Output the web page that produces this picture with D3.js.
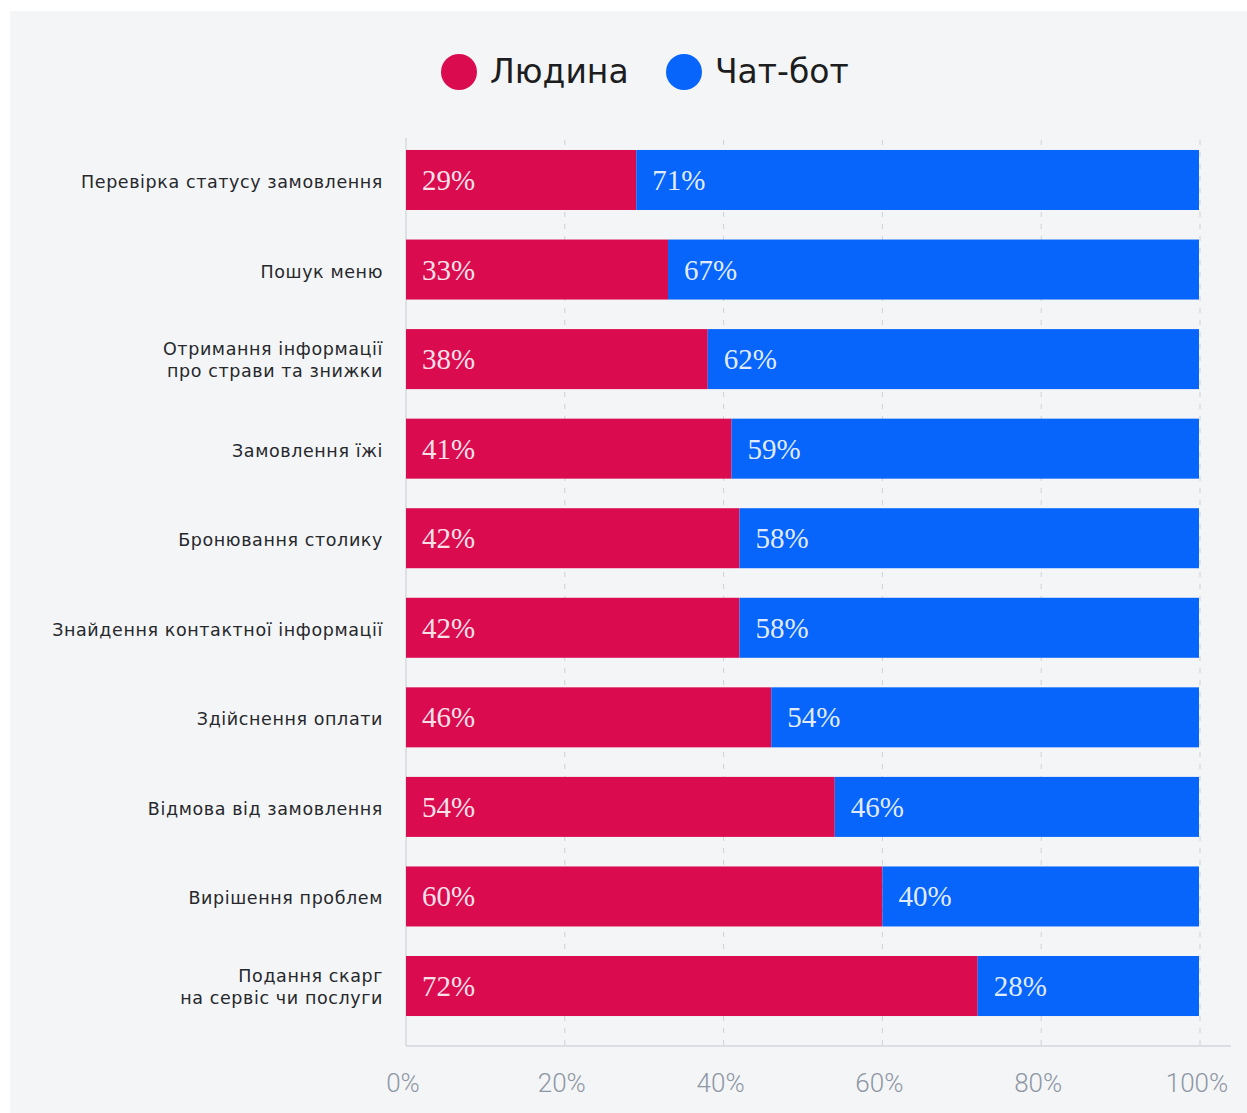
<!DOCTYPE html>
<html>
<head>
<meta charset="utf-8">
<script src="https://cdn.jsdelivr.net/npm/d3@7"></script>
<style>
  body { margin: 0; background: #fff; }
  svg { display: block; }
</style>
</head>
<body>
<div id="chart"></div>
<script>
// data
var categories = [
  ["Перевірка статусу замовлення"],
  ["Пошук меню"],
  ["Отримання інформації", "про страви та знижки"],
  ["Замовлення їжі"],
  ["Бронювання столику"],
  ["Знайдення контактної інформації"],
  ["Здійснення оплати"],
  ["Відмова від замовлення"],
  ["Вирішення проблем"],
  ["Подання скарг", "на сервіс чи послуги"]
];
var human = [29, 33, 38, 41, 42, 42, 46, 54, 60, 72];
var bot = [71, 67, 62, 59, 58, 58, 54, 46, 40, 28];
var seriesNames = ["Людина", "Чат-бот"];
var seriesColors = ["#db0b4f", "#0765fb"];
var tickValues = [0, 20, 40, 60, 80, 100];

var W = 1247, H = 1113;
var svg = d3.select("#chart").append("svg")
    .attr("width", W)
    .attr("height", H);

// grey panel
svg.append("rect")
    .attr("x", 10).attr("y", 11)
    .attr("width", W - 10).attr("height", H - 11)
    .attr("fill", "#f4f5f7");

var x = d3.scaleLinear().domain([0, 100]).range([405, 1199]);
var y = d3.scaleBand()
    .domain(d3.range(categories.length))
    .range([135.2, 1030.8])
    .paddingInner(0.33)
    .paddingOuter(0.165);

// dashed grid
svg.append("g").selectAll("line")
    .data(tickValues.slice(1))
    .enter().append("line")
    .attr("x1", function(d){ return x(d) + 1; })
    .attr("x2", function(d){ return x(d) + 1; })
    .attr("y1", 140)
    .attr("y2", 1046)
    .attr("stroke", "#cdd1d7")
    .attr("stroke-width", 1)
    .attr("stroke-dasharray", "5,7");

// axis lines
svg.append("line")
    .attr("x1", 406).attr("x2", 406)
    .attr("y1", 138).attr("y2", 1046)
    .attr("stroke", "#c6cbd2");
svg.append("line")
    .attr("x1", 406).attr("x2", 1231)
    .attr("y1", 1046).attr("y2", 1046)
    .attr("stroke", "#c0c5cc");

// stacked rows
var rows = categories.map(function(c, i){
    return { i: i, parts: [
        { x0: 0, x1: human[i], v: human[i], s: 0 },
        { x0: human[i], x1: human[i] + bot[i], v: bot[i], s: 1 }
    ]};
});

var row = svg.append("g").selectAll(".row")
    .data(rows)
    .enter().append("g")
    .attr("class", "row")
    .attr("transform", function(d){ return "translate(0," + y(d.i) + ")"; });

row.selectAll("rect")
    .data(function(d){ return d.parts; })
    .enter().append("rect")
    .attr("x", function(d){ return x(d.x0) + 1; })
    .attr("width", function(d){ return x(d.x1) - x(d.x0) - (d.s === 0 ? 0 : 1); })
    .attr("y", 0)
    .attr("height", y.bandwidth())
    .attr("fill", function(d){ return seriesColors[d.s]; });

row.selectAll("text.val")
    .data(function(d){ return d.parts; })
    .enter().append("text")
    .attr("class", "val")
    .attr("x", function(d){ return x(d.x0) + 17; })
    .attr("y", y.bandwidth() / 2 + 10)
    .attr("font-family", "'Liberation Serif', serif")
    .attr("font-size", 29)
    .attr("fill", "#ffffff")
    .attr("fill-opacity", 0.9)
    .text(function(d){ return d.v + "%"; });

// category labels
var labels = svg.append("g").selectAll("text")
    .data(categories)
    .enter().append("text")
    .attr("text-anchor", "end")
    .attr("font-family", "'DejaVu Sans', sans-serif")
    .attr("font-size", 17.5)
    .attr("letter-spacing", 0.6)
    .attr("fill", "#26282c")
    .attr("transform", function(d, i){
        return "translate(383," + (y(i) + y.bandwidth() / 2) + ")";
    });

labels.selectAll("tspan")
    .data(function(d){
        return d.map(function(t, k){ return { t: t, k: k, n: d.length }; });
    })
    .enter().append("tspan")
    .attr("x", 0)
    .attr("y", function(d){ return (d.k - (d.n - 1) / 2) * 22 + (d.n === 1 ? 8 : 7); })
    .text(function(d){ return d.t; });

// x tick labels
svg.append("g").selectAll("text")
    .data(tickValues)
    .enter().append("text")
    .attr("x", function(d){ return x(d) - 2; })
    .attr("y", 1092)
    .attr("text-anchor", "middle")
    .attr("font-family", "Roboto, 'Liberation Sans', sans-serif")
    .attr("font-weight", 300)
    .attr("font-size", 26)
    .attr("fill", "#8e97a4")
    .text(function(d){ return d + "%"; });

// legend
var legendX = d3.scaleOrdinal().domain(seriesNames).range([459, 684]);
var legend = svg.append("g").selectAll("g")
    .data(seriesNames)
    .enter().append("g")
    .attr("transform", function(d){ return "translate(" + legendX(d) + ",72)"; });
legend.append("circle")
    .attr("r", 18)
    .attr("fill", function(d, i){ return seriesColors[i]; });
legend.append("text")
    .attr("x", 31)
    .attr("y", 11)
    .attr("font-family", "'DejaVu Sans', sans-serif")
    .attr("font-size", 33)
    .attr("fill", "#1c1d20")
    .text(function(d){ return d; });
</script>
</body>
</html>
